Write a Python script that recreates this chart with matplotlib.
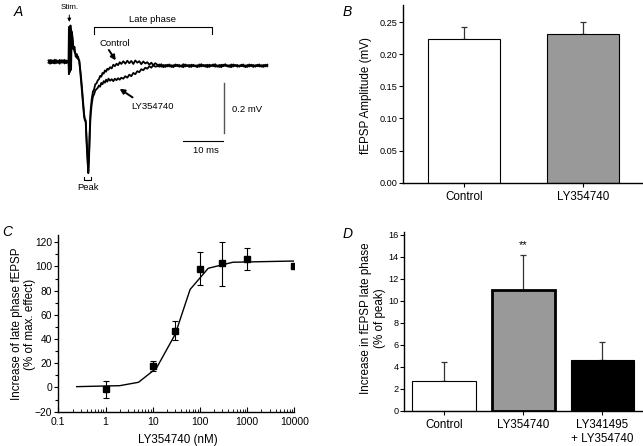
import numpy as np
import matplotlib
matplotlib.use("Agg")
import matplotlib.pyplot as plt

plt.rcParams['font.family'] = ['Liberation Sans', 'DejaVu Sans']

# --------------------------------------------------
# Data
# --------------------------------------------------

# Panel A: field potential traces (ms, mV)
pre_t = [-5.2, -4.8, -4.4, -4.0, -3.6, -3.2, -2.8, -2.4, -2.0, -1.6, -1.2, -0.8, -0.4, -0.2]
stim_t = [-0.1, 0.0, 0.15, 0.3, 0.45, 0.6, 0.8, 1.0, 1.3, 1.6, 1.9, 2.2, 2.5]
fall_t = [2.8, 3.1, 3.4, 3.7, 3.9, 4.1, 4.3, 4.5, 4.75, 4.95, 5.1, 5.3, 5.6, 5.9, 6.2, 6.5, 6.8]
rise_t = [7.1, 7.4, 7.7, 8.0, 8.3, 8.6, 8.9, 9.2, 9.5, 9.8, 10.2, 10.6, 11.0, 11.4, 11.8, 12.2, 12.6, 13.0]
late_t = [13.5, 14.0, 14.5, 15.0, 15.5, 16.0, 16.5, 17.0, 17.5, 18.0, 18.5, 19.0, 19.5, 20.0, 20.5, 21.0, 21.5]
tail_t = [22.0, 22.5, 23.0, 23.5, 24.0, 24.5, 25.0, 25.5, 26.0, 26.5, 27.0, 27.5, 28.0, 28.5,
          29.0, 29.5, 30.0, 30.5, 31.0, 31.5, 32.0, 32.5, 33.0, 33.5, 34.0, 34.5, 35.0, 35.5,
          36.0, 36.5, 37.0, 37.5, 38.0, 38.5, 39.0, 39.5, 40.0, 40.5, 41.0, 41.5, 42.0, 42.5,
          43.0, 43.5, 44.0, 44.5, 45.0, 45.5, 46.0, 46.5, 47.0, 47.5, 48.0, 48.5, 49.0, 49.5]
trace_t = pre_t + stim_t + fall_t + rise_t + late_t + tail_t

ctrl_v = ([0.005, -0.008, 0.006, -0.006, 0.008, -0.005, 0.004, -0.008, 0.006, -0.004, 0.007, -0.006, 0.004, -0.003]
          + [-0.05, 0.14, -0.04, 0.145, -0.03, 0.12, 0.10, 0.05, 0.06, 0.02, 0.03, 0.01, 0.005]
          + [-0.05, -0.10, -0.16, -0.22, -0.235, -0.24, -0.32, -0.38, -0.446, -0.36, -0.28, -0.20, -0.15,
             -0.12, -0.11, -0.09, -0.087]
          + [-0.075, -0.07, -0.057, -0.06, -0.045, -0.048, -0.035, -0.04, -0.028, -0.032, -0.022, -0.027,
             -0.012, -0.018, -0.008, -0.014, -0.002, -0.009]
          + [0.002, -0.008, 0.004, -0.006, 0.003, -0.009, 0.005, -0.004, 0.002, -0.01, 0.001, -0.007,
             -0.002, -0.012, -0.004, -0.014, -0.006]
          + [-0.012, -0.02, -0.01, -0.022, -0.013, -0.019, -0.011, -0.021, -0.014, -0.018, -0.012, -0.02,
             -0.015, -0.022, -0.011, -0.017, -0.013, -0.021, -0.012, -0.019, -0.014, -0.02, -0.01, -0.018,
             -0.013, -0.022, -0.012, -0.017, -0.011, -0.02, -0.015, -0.021, -0.012, -0.018, -0.01, -0.019,
             -0.014, -0.022, -0.011, -0.017, -0.013, -0.02, -0.012, -0.019, -0.015, -0.021, -0.011, -0.018,
             -0.013, -0.02, -0.012, -0.019, -0.014, -0.021, -0.012, -0.018])

ly_v = ([-0.004, 0.007, -0.006, 0.005, -0.007, 0.006, -0.005, 0.007, -0.004, 0.006, -0.007, 0.005, -0.004, 0.003]
        + [0.13, -0.045, 0.14, -0.035, 0.13, 0.11, 0.09, 0.06, 0.04, 0.03, 0.015, 0.02, 0.0]
        + [-0.04, -0.09, -0.15, -0.21, -0.23, -0.235, -0.30, -0.37, -0.44, -0.38, -0.30, -0.22, -0.17,
           -0.14, -0.13, -0.115, -0.11]
        + [-0.105, -0.095, -0.1, -0.085, -0.09, -0.078, -0.084, -0.072, -0.08, -0.068, -0.076, -0.07,
           -0.078, -0.068, -0.074, -0.066, -0.072, -0.064]
        + [-0.068, -0.058, -0.064, -0.052, -0.058, -0.045, -0.05, -0.038, -0.042, -0.03, -0.034, -0.024,
           -0.028, -0.018, -0.024, -0.014, -0.02]
        + [-0.018, -0.011, -0.02, -0.013, -0.021, -0.012, -0.019, -0.014, -0.022, -0.011, -0.018, -0.013,
           -0.02, -0.01, -0.019, -0.014, -0.021, -0.012, -0.018, -0.015, -0.022, -0.011, -0.019, -0.013,
           -0.02, -0.012, -0.021, -0.014, -0.018, -0.01, -0.02, -0.013, -0.022, -0.012, -0.017, -0.014,
           -0.021, -0.011, -0.019, -0.013, -0.02, -0.015, -0.018, -0.011, -0.022, -0.013, -0.019, -0.012,
           -0.021, -0.014, -0.018, -0.011, -0.02, -0.013, -0.019, -0.012])

# Panel B: fEPSP amplitude
b_labels = ["Control", "LY354740"]
b_values = [0.223, 0.231]
b_errors = [0.019, 0.019]
b_colors = ["white", "#999999"]

# Panel C: concentration-response
c_conc = [1, 10, 30, 100, 300, 1000, 10000]
c_resp = [-1.5, 18, 47, 98, 103, 106, 100]
c_err_lo = [7.5, 4, 8, 13, 19, 9, 0]
c_err_hi = [6.5, 4, 8, 14, 17, 9, 0]
fit_conc = [0.245, 2, 5, 12, 30, 62, 150, 500, 10000]
fit_resp = [0.7, 1.5, 4.3, 16, 44, 81, 98.5, 103.5, 104.5]

# Panel D: late phase increase
d_labels = ["Control", "LY354740", "LY341495\n+ LY354740"]
d_values = [2.7, 11.0, 4.6]
d_errors = [1.8, 3.2, 1.7]
d_colors = ["white", "#999999", "black"]
d_edge_lw = [0.8, 2.0, 0.8]

# --------------------------------------------------
# Figure
# --------------------------------------------------

W, H = 643, 446
fig = plt.figure(figsize=(W / 100, H / 100), dpi=100)


def box(l, t, r, b):
    return [l / W, 1 - b / H, (r - l) / W, (b - t) / H]


def ftext(x, y, s, **kw):
    fig.text(x / W, 1 - y / H, s, ha=kw.pop("ha", "center"), va=kw.pop("va", "center"), **kw)


small = 6.8

# ---- Panel A ----
axA = fig.add_axes(box(30, 0, 290, 200))
axA.set_xlim(-9.825, 55.175)
axA.set_ylim(-0.5532, 0.2468)
axA.axis("off")
axA.plot(trace_t, ly_v, color="black", lw=1.3)
axA.plot(trace_t, ctrl_v, color="black", lw=1.3)

axA.text(0, 0.215, "Stim.", ha="center", va="center", fontsize=5.8, clip_on=False)
axA.annotate("", xy=(0, 0.148), xytext=(0, 0.198),
             arrowprops=dict(arrowstyle="-|>", color="black", lw=0.7, mutation_scale=5))
axA.plot([6.25, 6.25, 35.6, 35.6], [0.11, 0.138, 0.138, 0.11], color="black", lw=0.8)
axA.text(20.9, 0.167, "Late phase", ha="center", va="center", fontsize=small)
axA.text(11.3, 0.073, "Control", ha="center", va="center", fontsize=small)
axA.annotate("", xy=(12.0, -0.004), xytext=(9.5, 0.056),
             arrowprops=dict(arrowstyle="-|>", color="black", lw=1.4, mutation_scale=7))
axA.text(20.8, -0.181, "LY354740", ha="center", va="center", fontsize=small)
axA.annotate("", xy=(12.0, -0.102), xytext=(16.4, -0.149),
             arrowprops=dict(arrowstyle="-|>", color="black", lw=1.4, mutation_scale=7))
axA.plot([3.75, 3.75, 5.35, 5.35], [-0.463, -0.473, -0.473, -0.463], color="black", lw=0.8)
axA.text(4.7, -0.503, "Peak", ha="center", va="center", fontsize=small)
# scale bars
axA.plot([38.75, 38.75], [-0.087, -0.287], color="#555555", lw=1.0)
axA.text(40.7, -0.193, "0.2 mV", ha="left", va="center", fontsize=small)
axA.plot([28.35, 38.35], [-0.318, -0.318], color="black", lw=0.8)
axA.text(34.1, -0.356, "10 ms", ha="center", va="center", fontsize=small)


def style_axes(ax):
    for side in ["top", "right"]:
        ax.spines[side].set_visible(False)
    for side in ["left", "bottom"]:
        ax.spines[side].set_linewidth(1.0)


# ---- Panel B ----
axB = fig.add_axes(box(403.3, 5, 641.7, 182.7))
style_axes(axB)
xb = np.arange(len(b_labels))
axB.bar(xb, b_values, width=0.6, color=b_colors, edgecolor="black", linewidth=0.8, zorder=2)
axB.errorbar(xb, b_values, yerr=[[0, 0], b_errors], fmt="none", ecolor="#333333",
             elinewidth=0.9, capsize=2, capthick=0.9, zorder=1)
axB.set_xlim(-0.508, 1.494)
axB.set_ylim(0, 0.2765)
axB.set_yticks([0.0, 0.05, 0.10, 0.15, 0.20, 0.25])
axB.set_yticklabels(["0.00", "0.05", "0.10", "0.15", "0.20", "0.25"])
axB.set_xticks(xb)
axB.set_xticklabels(b_labels)
axB.tick_params(axis="y", labelsize=6.6, length=3, width=0.8, pad=1)
axB.tick_params(axis="x", labelsize=8.4, length=3, width=0.8, pad=3)
ftext(366, 96, "fEPSP Amplitude (mV)", rotation=90, fontsize=8.4)

# ---- Panel C ----
axC = fig.add_axes(box(58.3, 235, 294.3, 411.7))
style_axes(axC)
axC.set_xscale("log")
axC.plot(fit_conc, fit_resp, color="black", lw=1.0)
axC.errorbar(c_conc, c_resp, yerr=[c_err_lo, c_err_hi], fmt="s", color="black", ms=3.8,
             elinewidth=0.8, capsize=2.5, capthick=0.8)
axC.set_xlim(0.1, 10000)
axC.set_ylim(-20, 126)
axC.set_yticks([-20, 0, 20, 40, 60, 80, 100, 120])
axC.set_yticks([-10, 10, 30, 50, 70, 90, 110], minor=True)
axC.set_xticks([0.1, 1, 10, 100, 1000, 10000])
axC.set_xticklabels(["0.1", "1", "10", "100", "1000", "10000"])
axC.tick_params(axis="y", which="major", labelsize=7.4, length=3, width=0.8, direction="out", pad=1.5)
axC.tick_params(axis="y", which="minor", length=2, width=0.8, direction="out")
axC.tick_params(axis="x", which="major", labelsize=7.6, length=3.5, width=0.8, direction="in", pad=4)
axC.tick_params(axis="x", which="minor", length=2, width=0.6, direction="in")
ftext(23.5, 324, "Increase of late phase fEPSP\n(% of max. effect)", rotation=90, fontsize=8.4,
      linespacing=1.2)
ftext(178, 440, "LY354740 (nM)", fontsize=8.4)

# ---- Panel D ----
axD = fig.add_axes(box(404, 231.7, 641.7, 411))
style_axes(axD)
xd = np.arange(len(d_labels))
axD.bar(xd, d_values, width=0.8, color=d_colors, edgecolor="black", linewidth=d_edge_lw, zorder=2)
axD.errorbar(xd, d_values, yerr=[[0, 0, 0], d_errors], fmt="none", ecolor="#333333",
             elinewidth=0.9, capsize=2, capthick=0.9, zorder=1)
axD.text(1, 15.1, "**", ha="center", va="center", fontsize=8)
axD.set_xlim(-0.505, 2.495)
axD.set_ylim(0, 16.3)
axD.set_yticks([0, 2, 4, 6, 8, 10, 12, 14, 16])
axD.set_xticks(xd)
axD.set_xticklabels(d_labels)
axD.tick_params(axis="y", labelsize=6.6, length=3, width=0.8, pad=1)
axD.tick_params(axis="x", labelsize=8.4, length=3, width=0.8, pad=3)
ftext(373, 318, "Increase in fEPSP late phase\n(% of peak)", rotation=90, fontsize=8.4,
      linespacing=1.3)

# panel letters
for letter, x, y in [("A", 18, 12), ("B", 347, 12), ("C", 7, 232), ("D", 348, 234)]:
    ftext(x, y, letter, fontsize=10, style="italic")

fig.savefig("out.png", dpi=100)
